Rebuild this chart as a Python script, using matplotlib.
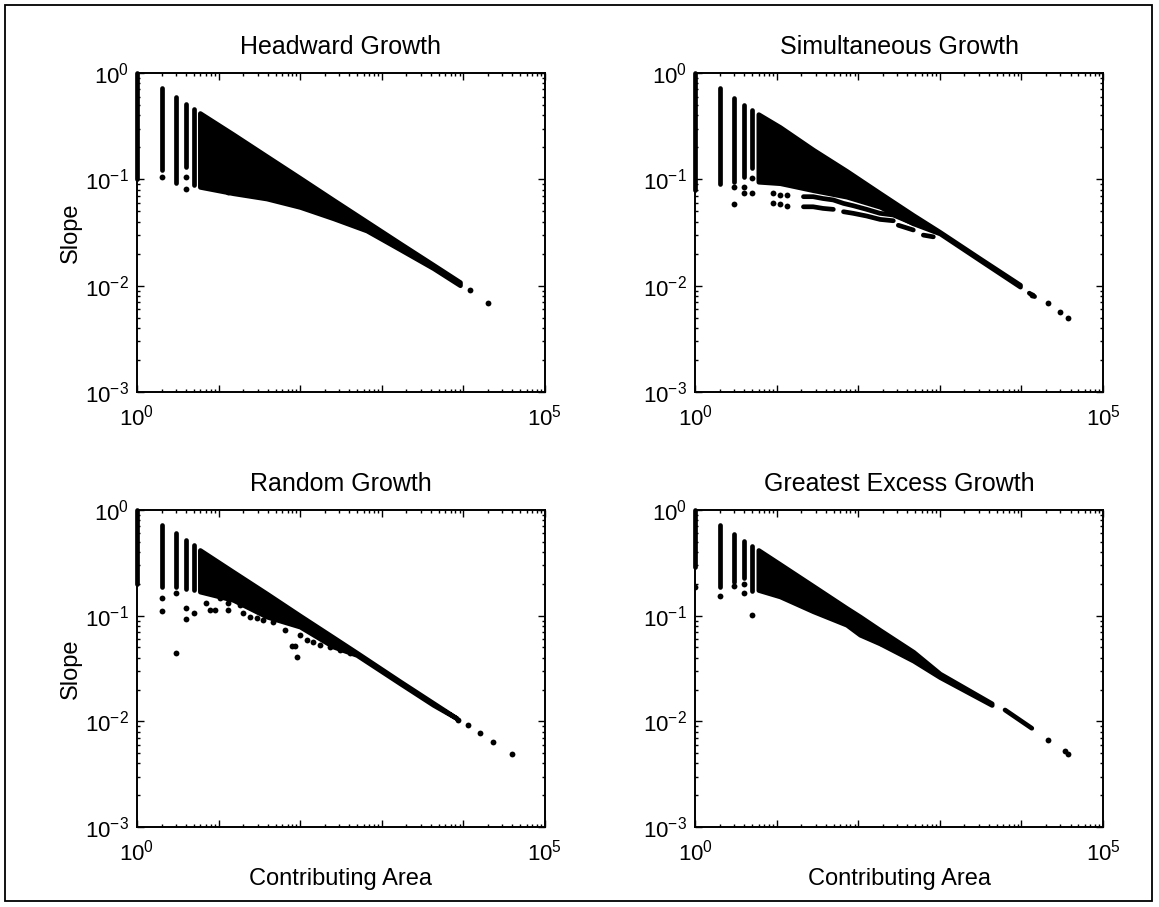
import matplotlib
matplotlib.use("Agg")
import matplotlib.pyplot as plt
from matplotlib.patches import Rectangle

plt.rcParams['font.family'] = ['Liberation Sans', 'DejaVu Sans']
plt.rcParams['mathtext.fontset'] = 'custom'
plt.rcParams['mathtext.rm'] = 'Liberation Sans'
plt.rcParams['mathtext.it'] = 'Liberation Sans'
plt.rcParams['mathtext.bf'] = 'Liberation Sans:bold'

titles = ["Headward Growth", "Simultaneous Growth", "Random Growth", "Greatest Excess Growth"]
x_ticks = [1, 10, 100, 1000, 10000, 100000]
x_tick_labels = [r'$10^0$', '', '', '', '', r'$10^5$']
y_ticks = [0.001, 0.01, 0.1, 1]
y_tick_labels = [r'$10^{-3}$', r'$10^{-2}$', r'$10^{-1}$', r'$10^0$']

# --- Headward growth ---
head_col_area = [1, 2, 3, 4, 5]
head_col_low = [0.10, 0.122, 0.092, 0.131, 0.088]
head_col_high = [1.0, 0.717, 0.598, 0.51, 0.458]
head_band_area = [5.9, 15.1, 38.8, 99.5, 255, 653, 1670, 4280, 9080]
head_band_low = [0.085, 0.074, 0.066, 0.055, 0.043, 0.033, 0.022, 0.0146, 0.0101]
head_band_high = [0.42, 0.265, 0.165, 0.103, 0.064, 0.040, 0.025, 0.0157, 0.0108]
head_dot_area = [2, 4, 4, 13.2, 15.7, 12050, 20200]
head_dot_slope = [0.106, 0.106, 0.0805, 0.076, 0.076, 0.0091, 0.0069]
head_streaks = []

# --- Simultaneous growth ---
simul_col_area = [1, 2, 3, 4, 5]
simul_col_low = [0.08, 0.090, 0.095, 0.106, 0.127]
simul_col_high = [1.0, 0.717, 0.578, 0.50, 0.449]
simul_band_area = [5.97, 11, 28, 72, 185, 473, 1000, 3100, 9600]
simul_band_low = [0.095, 0.092, 0.079, 0.0687, 0.0552, 0.0385, 0.031, 0.0174, 0.0098]
simul_band_high = [0.41, 0.31, 0.19, 0.12, 0.074, 0.046, 0.032, 0.018, 0.0102]
simul_dot_area = [3, 3, 4, 4, 5, 5, 9.1, 11, 13.3, 9.1, 11, 13.3, 13400, 21400, 29700, 37600]
simul_dot_slope = [0.084, 0.0586, 0.0853, 0.074, 0.102, 0.074, 0.074, 0.072, 0.071,
                   0.0594, 0.058, 0.0565, 0.0082, 0.0068, 0.0056, 0.0050]
simul_streaks = [
    ([21.3, 28, 37, 49.5, 66, 87, 127, 185, 269, 473],
     [0.0687, 0.0687, 0.066, 0.064, 0.0594, 0.0565, 0.0522, 0.0479, 0.0462, 0.0385]),
    ([21.3, 28, 37, 49.5], [0.0552, 0.0552, 0.0533, 0.0522]),
    ([66, 87, 127, 185, 269], [0.0496, 0.0479, 0.0452, 0.042, 0.0408]),
    ([310, 473], [0.037, 0.0334]),
    ([628, 832], [0.0299, 0.0288]),
    ([12500, 14500], [0.0085, 0.0079]),
]

# --- Random growth ---
rand_col_area = [1, 2, 3, 4, 5]
rand_col_low = [0.20, 0.188, 0.188, 0.18, 0.175]
rand_col_high = [1.0, 0.72, 0.60, 0.52, 0.467]
rand_band_area = [5.9, 15.1, 38.8, 99.5, 255, 492, 1670, 4280, 8280]
rand_band_low = [0.169, 0.141, 0.098, 0.0787, 0.0509, 0.0425, 0.0229, 0.0143, 0.0107]
rand_band_high = [0.418, 0.26, 0.162, 0.10, 0.0623, 0.0447, 0.0239, 0.0149, 0.0107]
rand_dot_area = [2, 2, 3, 3, 4, 4, 5, 7.1, 7.8, 9.0, 10.4, 13.2, 13.2, 18.3, 20.1, 24.3,
                 29.3, 35.3, 46.8, 65, 78.6, 86.3, 90.5, 99.5, 120, 145, 175, 232, 307, 408,
                 8660, 11500, 16000, 23300, 39100]
rand_dot_slope = [0.148, 0.111, 0.163, 0.044, 0.119, 0.094, 0.107, 0.131, 0.113, 0.113,
                  0.146, 0.131, 0.113, 0.126, 0.105, 0.098, 0.0945, 0.091, 0.088, 0.073,
                  0.0517, 0.0517, 0.0404, 0.0657, 0.0589, 0.0568, 0.0528, 0.0509, 0.0474,
                  0.044, 0.0103, 0.0092, 0.0077, 0.0064, 0.0049]
rand_streaks = []

# --- Greatest excess growth ---
ge_col_area = [1, 2, 3, 4, 5]
ge_col_low = [0.29, 0.188, 0.21, 0.226, 0.17]
ge_col_high = [1.0, 0.72, 0.593, 0.509, 0.456]
ge_band_area = [5.97, 11, 28, 72, 105, 185, 473, 1000, 4320]
ge_band_low = [0.175, 0.152, 0.11, 0.082, 0.066, 0.0545, 0.0375, 0.0262, 0.0143]
ge_band_high = [0.418, 0.307, 0.191, 0.118, 0.098, 0.073, 0.0455, 0.0283, 0.0148]
ge_dot_area = [1, 2, 3, 4, 4, 5, 13.3, 25.7, 28, 189, 21400, 34000, 37600]
ge_dot_slope = [0.188, 0.154, 0.19, 0.165, 0.2, 0.102, 0.163, 0.117, 0.117, 0.0548,
                0.0067, 0.0052, 0.0049]
ge_streaks = [([6300, 13400], [0.0128, 0.0086])]

panels = [
    (head_col_area, head_col_low, head_col_high, head_band_area, head_band_low,
     head_band_high, head_dot_area, head_dot_slope, head_streaks),
    (simul_col_area, simul_col_low, simul_col_high, simul_band_area, simul_band_low,
     simul_band_high, simul_dot_area, simul_dot_slope, simul_streaks),
    (rand_col_area, rand_col_low, rand_col_high, rand_band_area, rand_band_low,
     rand_band_high, rand_dot_area, rand_dot_slope, rand_streaks),
    (ge_col_area, ge_col_low, ge_col_high, ge_band_area, ge_band_low,
     ge_band_high, ge_dot_area, ge_dot_slope, ge_streaks),
]

fig = plt.figure(figsize=(11.59, 9.07), dpi=100)
positions = [
    [0.1182, 0.5678, 0.352, 0.3517],
    [0.5997, 0.5678, 0.352, 0.3517],
    [0.1182, 0.0882, 0.352, 0.3495],
    [0.5997, 0.0882, 0.352, 0.3495],
]

lw = 3.4  # thickness of the dot clouds, in points

for k, (pos, data) in enumerate(zip(positions, panels)):
    ca, clo, chi, ba, blo, bhi, da, ds, streaks = data
    ax = fig.add_axes(pos)
    ax.set_xscale('log')
    ax.set_yscale('log')

    ax.vlines(ca, clo, chi, colors='black', linewidth=lw, capstyle='round',
              clip_on=False, zorder=3)
    ax.fill_between(ba, blo, bhi, facecolor='black', edgecolor='black',
                    linewidth=lw, joinstyle='round', zorder=3)
    for sa, ss in streaks:
        ax.plot(sa, ss, color='black', linewidth=lw, solid_capstyle='round', zorder=3)
    ax.plot(da, ds, 'o', color='black', markersize=4.2, markeredgewidth=0, zorder=3)

    ax.set_xlim(1, 1e5)
    ax.set_ylim(1e-3, 1)
    ax.set_xticks(x_ticks)
    ax.set_xticklabels(x_tick_labels)
    ax.set_yticks(y_ticks)
    ax.set_yticklabels(y_tick_labels)
    ax.tick_params(which='both', direction='in', top=True, right=True,
                   labelsize=16, width=1)
    ax.tick_params(which='major', length=5)
    ax.tick_params(which='minor', length=2.5)
    ax.tick_params(axis='x', which='major', pad=9)
    ax.tick_params(axis='y', which='major', pad=6)
    for s in ax.spines.values():
        s.set_linewidth(1.4)

    ax.set_title(titles[k], fontsize=18, pad=14)
    if k % 2 == 0:
        ax.set_ylabel("Slope", fontsize=17, labelpad=2)
    if k >= 2:
        ax.set_xlabel("Contributing Area", fontsize=17, labelpad=2)

fig.patches.append(Rectangle((0.004, 0.007), 0.990, 0.987, transform=fig.transFigure,
                             fill=False, edgecolor='black', linewidth=1.3))

fig.savefig("out.png", dpi=100)
